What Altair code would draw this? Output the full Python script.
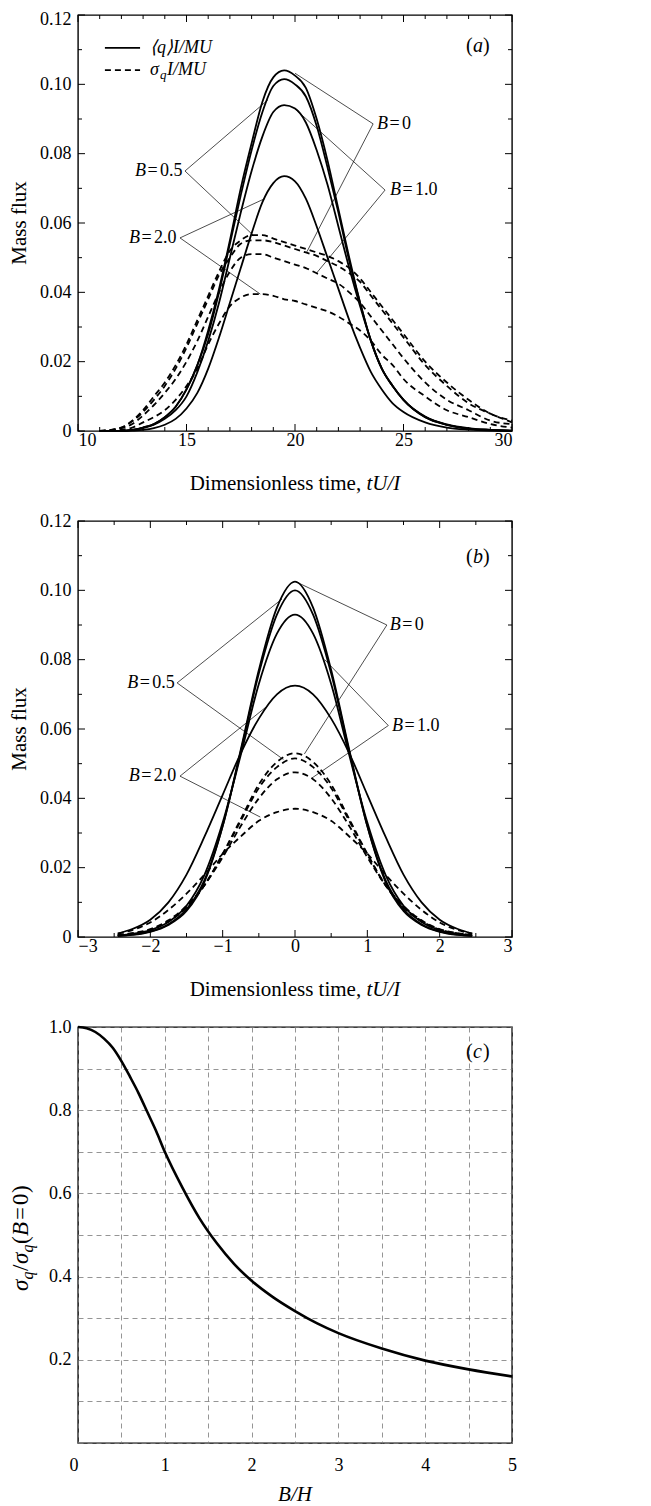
import altair as alt
import pandas as pd

FONT = "Liberation Serif"
W, H = 434, 416

# ---------------- Panel (a) ----------------
ta = [11, 12, 12.5, 13, 13.5, 14, 14.5, 15, 15.5, 16, 16.5, 17, 17.5, 18, 18.5, 19, 19.5,
      20, 20.5, 21, 21.5, 22, 22.5, 23, 23.5, 24, 24.5, 25, 26, 27, 28, 29, 30]
qa_B0 = [0, 0, 0.0003, 0.001, 0.002, 0.004, 0.007, 0.012, 0.019, 0.029, 0.041, 0.055, 0.070, 0.083, 0.095,
         0.102, 0.104, 0.1025, 0.099, 0.090, 0.078, 0.064, 0.050, 0.037, 0.026, 0.018, 0.013, 0.009, 0.004,
         0.0018, 0.0007, 0.0003, 0.0001]
qa_B05 = [0, 0, 0.0003, 0.001, 0.002, 0.004, 0.007, 0.012, 0.019, 0.028, 0.040, 0.054, 0.068, 0.081, 0.092,
          0.0995, 0.1015, 0.100, 0.0965, 0.088, 0.076, 0.063, 0.049, 0.037, 0.026, 0.018, 0.013, 0.009, 0.004,
          0.0018, 0.0007, 0.0003, 0.0001]
qa_B1 = [0, 0, 0.0003, 0.0008, 0.0018, 0.0035, 0.006, 0.010, 0.017, 0.026, 0.037, 0.050, 0.063, 0.075, 0.085,
         0.092, 0.094, 0.093, 0.089, 0.081, 0.071, 0.059, 0.047, 0.036, 0.026, 0.018, 0.013, 0.009, 0.0042,
         0.0019, 0.0008, 0.0003, 0.0001]
qa_B2 = [0, 0, 0.0001, 0.0003, 0.0008, 0.0018, 0.0035, 0.0065, 0.011, 0.018, 0.027, 0.037, 0.047, 0.057, 0.066,
         0.0715, 0.0735, 0.072, 0.067, 0.059, 0.050, 0.041, 0.032, 0.024, 0.017, 0.012, 0.008, 0.0055, 0.0025,
         0.001, 0.0004, 0.0001, 0]
sa_B0 = [0, 0.001, 0.003, 0.006, 0.010, 0.014, 0.019, 0.025, 0.032, 0.039, 0.046, 0.052, 0.055, 0.0565, 0.0565,
         0.0555, 0.0545, 0.0535, 0.0525, 0.0515, 0.0505, 0.049, 0.047, 0.044, 0.040, 0.036, 0.032, 0.028, 0.020,
         0.014, 0.009, 0.005, 0.003]
sa_B05 = [0, 0.001, 0.0028, 0.0055, 0.009, 0.013, 0.018, 0.024, 0.031, 0.038, 0.045, 0.050, 0.054, 0.055, 0.055,
          0.0545, 0.0535, 0.0525, 0.0515, 0.0505, 0.049, 0.0475, 0.0455, 0.043, 0.039, 0.035, 0.031, 0.027, 0.019,
          0.013, 0.008, 0.005, 0.0025]
sa_B1 = [0, 0.0008, 0.002, 0.0045, 0.0075, 0.011, 0.015, 0.020, 0.026, 0.033, 0.040, 0.046, 0.050, 0.051, 0.051,
         0.050, 0.049, 0.048, 0.047, 0.0455, 0.044, 0.0425, 0.040, 0.037, 0.033, 0.029, 0.025, 0.021, 0.014,
         0.009, 0.006, 0.003, 0.002]
sa_B2 = [0, 0.0004, 0.001, 0.0025, 0.004, 0.006, 0.009, 0.013, 0.018, 0.025, 0.031, 0.036, 0.0385, 0.0395, 0.0395,
         0.039, 0.038, 0.0375, 0.0365, 0.0355, 0.0345, 0.033, 0.031, 0.029, 0.026, 0.022, 0.019, 0.015, 0.010,
         0.006, 0.004, 0.002, 0.001]

# ---------------- Panel (b) ----------------
tb = [-2.45, -2.25, -2, -1.75, -1.5, -1.25, -1, -0.75, -0.5, -0.25, 0, 0.25, 0.5, 0.75, 1, 1.25, 1.5, 1.75, 2, 2.25, 2.45]
qb_B0 = [0.0003, 0.0006, 0.0015, 0.0035, 0.0075, 0.016, 0.032, 0.054, 0.077, 0.095, 0.1025, 0.095, 0.077, 0.054,
         0.032, 0.016, 0.0075, 0.0035, 0.0015, 0.0006, 0.0003]
qb_B05 = [0.0003, 0.0007, 0.0016, 0.0037, 0.008, 0.0165, 0.032, 0.0535, 0.076, 0.093, 0.100, 0.093, 0.076, 0.0535,
          0.032, 0.0165, 0.008, 0.0037, 0.0016, 0.0007, 0.0003]
qb_B1 = [0.0004, 0.0009, 0.002, 0.0043, 0.009, 0.018, 0.033, 0.0525, 0.073, 0.0875, 0.093, 0.0875, 0.073, 0.0525,
         0.033, 0.018, 0.009, 0.0043, 0.002, 0.0009, 0.0004]
qb_B2 = [0.001, 0.0023, 0.005, 0.010, 0.018, 0.029, 0.041, 0.053, 0.063, 0.070, 0.0725, 0.070, 0.063, 0.053,
         0.041, 0.029, 0.018, 0.010, 0.005, 0.0023, 0.001]
sb_B0 = [0.0005, 0.001, 0.002, 0.0045, 0.0085, 0.015, 0.024, 0.034, 0.044, 0.0505, 0.053, 0.0505, 0.044, 0.034,
         0.024, 0.015, 0.0085, 0.0045, 0.002, 0.001, 0.0005]
sb_B05 = [0.0005, 0.001, 0.0021, 0.0046, 0.0087, 0.015, 0.0238, 0.0335, 0.043, 0.049, 0.0515, 0.049, 0.043, 0.0335,
          0.0238, 0.015, 0.0087, 0.0046, 0.0021, 0.001, 0.0005]
sb_B1 = [0.0006, 0.0011, 0.0023, 0.0048, 0.009, 0.015, 0.023, 0.032, 0.040, 0.0455, 0.0475, 0.0455, 0.040, 0.032,
         0.023, 0.015, 0.009, 0.0048, 0.0023, 0.0011, 0.0006]
sb_B2 = [0.001, 0.002, 0.0042, 0.0078, 0.0125, 0.018, 0.024, 0.029, 0.0335, 0.036, 0.037, 0.036, 0.0335, 0.029,
         0.024, 0.018, 0.0125, 0.0078, 0.0042, 0.002, 0.001]

# ---------------- Panel (c) ----------------
bh = [0, 0.1, 0.2, 0.3, 0.4, 0.5, 0.6, 0.7, 0.8, 0.9, 1.0, 1.2, 1.4, 1.6, 1.8, 2.0, 2.25, 2.5, 2.75, 3.0,
      3.5, 4.0, 4.5, 5.0]
ratio = [1.0, 0.997, 0.988, 0.972, 0.95, 0.918, 0.88, 0.84, 0.795, 0.75, 0.70, 0.615, 0.54, 0.48, 0.43, 0.39,
         0.35, 0.317, 0.288, 0.264, 0.227, 0.198, 0.177, 0.16]

# ---------------- annotations ----------------
B_names = ["0", "1.0", "0.5", "2.0"]
a_lab_t = [23.78, 24.38, 12.63, 12.35]
a_lab_v = [0.0886, 0.0695, 0.075, 0.0557]
a_vtx_t = [23.6, 24.15, 14.93, 14.7]
a_end1_t = [20.0, 19.9, 18.75, 18.6]
a_end1_v = [0.1032, 0.0935, 0.0955, 0.067]
a_end2_t = [20.55, 21.0, 18.1, 18.4]
a_end2_v = [0.0517, 0.0456, 0.0563, 0.0395]

b_lab_t = [1.31, 1.34, -2.32, -2.30]
b_lab_v = [0.090, 0.061, 0.0733, 0.0464]
b_vtx_t = [1.27, 1.29, -1.63, -1.59]
b_end1_t = [0.02, 0.41, -0.18, -0.39]
b_end1_v = [0.1024, 0.080, 0.0975, 0.0665]
b_end2_t = [0.13, 0.23, -0.16, -0.48]
b_end2_v = [0.0528, 0.0458, 0.0512, 0.0346]

legend_t = [11.24, 12.86]
legend_v = [0.1105, 0.1041]
legend_text_t = 13.32

tag_pos = {"a": (27.88, 0.111), "b": (2.364, 0.1096), "c": (4.47, 0.94)}

ya_ticks_major = [0, 0.02, 0.04, 0.06, 0.08, 0.10, 0.12]
ya_ticks_minor = [0.01, 0.03, 0.05, 0.07, 0.09, 0.11]
xa_major = [10, 15, 20, 25, 30]
xa_minor = [11, 12, 13, 14, 16, 17, 18, 19, 21, 22, 23, 24, 26, 27, 28, 29]
xb_major = [-3, -2, -1, 0, 1, 2, 3]
xb_minor = [-2.5, -1.5, -0.5, 0.5, 1.5, 2.5]
xc_grid = [0, 0.5, 1, 1.5, 2, 2.5, 3, 3.5, 4, 4.5, 5]
yc_grid = [0, 0.1, 0.2, 0.3, 0.4, 0.5, 0.6, 0.7, 0.8, 0.9, 1.0]

DUMMY = pd.DataFrame({"d": [0]})


class Panel:
    def __init__(self, xdom, ydom, xaxis, yaxis):
        self.xdom, self.ydom, self.xaxis, self.yaxis = xdom, ydom, xaxis, yaxis

    def X(self, field):
        return alt.X(f"{field}:Q", scale=alt.Scale(domain=self.xdom, nice=False, zero=False), axis=self.xaxis)

    def Y(self, field):
        return alt.Y(f"{field}:Q", scale=alt.Scale(domain=self.ydom, nice=False, zero=False), axis=self.yaxis)

    def XY(self):
        return dict(x=self.X("t"), y=self.Y("v"))


def long(x, series):
    rows = []
    for name, vals in series.items():
        for xi, vi in zip(x, vals):
            rows.append({"t": xi, "v": vi, "series": name})
    return pd.DataFrame(rows)


def txt(text, x, y, size=18, italic=False, align="left", baseline="middle", dx=0, dy=0, angle=None):
    kw = dict(text=text, font=FONT, fontSize=size, align=align, baseline=baseline, dx=dx, dy=dy, color="black")
    if italic:
        kw["fontStyle"] = "italic"
    if angle is not None:
        kw["angle"] = angle
    return alt.Chart(DUMMY).mark_text(**kw).encode(x=alt.value(x), y=alt.value(y))


def ticks(P, xmaj, xmin, ymaj, ymin, Lmaj=7, Lmin=4):
    layers = []
    for vals, L in [(xmaj, Lmaj), (xmin, Lmin)]:
        d = pd.DataFrame({"t": vals})
        base = alt.Chart(d).mark_rule(color="black", strokeWidth=1)
        layers.append(base.encode(x=P.X("t"), y=alt.value(H), y2=alt.value(H - L)))
        layers.append(base.encode(x=P.X("t"), y=alt.value(0), y2=alt.value(L)))
    for vals, L in [(ymaj, Lmaj), (ymin, Lmin)]:
        d = pd.DataFrame({"v": vals})
        base = alt.Chart(d).mark_rule(color="black", strokeWidth=1)
        layers.append(base.encode(y=P.Y("v"), x=alt.value(0), x2=alt.value(L)))
        layers.append(base.encode(y=P.Y("v"), x=alt.value(W), x2=alt.value(W - L)))
    return layers


def xtitle_time(y):
    return [txt("Dimensionless time,", 111.7, y, size=21),
            txt("tU/I", 288.5, y, size=21, italic=True)]


def b_labels(P, lab_t, lab_v):
    d = pd.DataFrame({"t": lab_t, "v": lab_v, "val": B_names})
    base = alt.Chart(d)
    enc = P.XY()
    return [
        base.mark_text(text="B", font=FONT, fontSize=18, fontStyle="italic", align="left",
                       baseline="middle", color="black").encode(**enc),
        base.mark_text(text="=", font=FONT, fontSize=18, align="left", baseline="middle",
                       dx=12.5, color="black").encode(**enc),
        base.mark_text(font=FONT, fontSize=18, align="left", baseline="middle", dx=25,
                       color="black").encode(text="val:N", **enc),
    ]


def leaders(P, vtx_t, vtx_v, e1t, e1v, e2t, e2v):
    d = pd.DataFrame({"t": vtx_t + vtx_t, "v": vtx_v + vtx_v,
                      "t2": e1t + e2t, "v2": e1v + e2v})
    return alt.Chart(d).mark_rule(color="black", strokeWidth=0.7).encode(
        x=P.X("t"), y=P.Y("v"), x2="t2:Q", y2="v2:Q")


def tag(P, letter):
    tx, ty = tag_pos[letter]
    d = pd.DataFrame({"t": [tx], "v": [ty]})
    enc = P.XY()
    base = alt.Chart(d)
    return [
        base.mark_text(text="(", font=FONT, fontSize=20, align="left", baseline="middle", color="black").encode(**enc),
        base.mark_text(text=letter, font=FONT, fontSize=20, fontStyle="italic", align="left", baseline="middle",
                       dx=7, color="black").encode(**enc),
        base.mark_text(text=")", font=FONT, fontSize=20, align="left", baseline="middle", dx=17,
                       color="black").encode(**enc),
    ]


YLABEL_EXPR = "datum.value == 0 ? '0' : format(datum.value, '.2f')"
YA_AXIS_TOP = alt.Axis(values=ya_ticks_major, labelExpr=YLABEL_EXPR, title=None, labelPadding=7,
                       labelOffset={"condition": {"test": "datum.value > 0.115", "value": 4}, "value": 0})
YB_AXIS = alt.Axis(values=ya_ticks_major, labelExpr=YLABEL_EXPR, title=None, labelPadding=7)


def flux_panel(P, x, qs, ss, xmaj, xmin, lab, lead, letter, extra=None):
    qdf = long(x, qs)
    sdf = long(x, ss)
    solid = alt.Chart(qdf).mark_line(color="black", strokeWidth=1.8, interpolate="monotone").encode(
        detail="series:N", **P.XY())
    dashed = alt.Chart(sdf).mark_line(color="black", strokeWidth=1.8, strokeDash=[6, 4],
                                      interpolate="monotone").encode(detail="series:N", **P.XY())
    layers = [solid, dashed]
    layers += ticks(P, xmaj, xmin, ya_ticks_major, ya_ticks_minor)
    layers.append(leaders(P, *lead))
    layers += b_labels(P, *lab)
    layers += tag(P, letter)
    layers += xtitle_time(H + 53)
    layers.append(txt("Mass flux", -58, H / 2, size=21, angle=270, align="center"))
    if extra:
        layers += extra(P)
    return alt.layer(*layers).properties(width=W, height=H)


def legend_a(P):
    d1 = pd.DataFrame({"t": legend_t, "v": [legend_v[0]] * 2})
    d2 = pd.DataFrame({"t": legend_t, "v": [legend_v[1]] * 2})
    l1 = alt.Chart(d1).mark_line(color="black", strokeWidth=1.8).encode(**P.XY())
    l2 = alt.Chart(d2).mark_line(color="black", strokeWidth=1.8, strokeDash=[6, 4]).encode(**P.XY())
    dt = pd.DataFrame({"t": [legend_text_t, legend_text_t], "v": legend_v})
    e1 = P.XY()
    t1 = alt.Chart(dt.iloc[[0]]).mark_text(text="⟨q⟩I/MU", font=FONT, fontSize=18, fontStyle="italic",
                                             align="left", baseline="middle", color="black").encode(**e1)
    base2 = alt.Chart(dt.iloc[[1]])
    t2 = base2.mark_text(text="σ", font=FONT, fontSize=18, fontStyle="italic", align="left",
                         baseline="middle", color="black").encode(**e1)
    t3 = base2.mark_text(text="q", font=FONT, fontSize=13, fontStyle="italic", align="left",
                         baseline="middle", dx=10, dy=5, color="black").encode(**e1)
    t4 = base2.mark_text(text="I/MU", font=FONT, fontSize=18, fontStyle="italic", align="left",
                         baseline="middle", dx=17, color="black").encode(**e1)
    return [l1, l2, t1, t2, t3, t4]


PA = Panel([10, 30], [0, 0.12], alt.Axis(values=xa_major, format="d", title=None, labelPadding=0), YA_AXIS_TOP)
pa = flux_panel(
    PA, ta, {"B0": qa_B0, "B05": qa_B05, "B1": qa_B1, "B2": qa_B2},
    {"B0": sa_B0, "B05": sa_B05, "B1": sa_B1, "B2": sa_B2},
    xa_major, xa_minor, (a_lab_t, a_lab_v),
    (a_vtx_t, a_lab_v, a_end1_t, a_end1_v, a_end2_t, a_end2_v), "a", extra=legend_a)

PB = Panel([-3, 3], [0, 0.12],
           alt.Axis(values=xb_major, title=None, labelPadding=0,
                    labelExpr="datum.value < 0 ? '\u2212' + format(-datum.value, 'd') : format(datum.value, 'd')"),
           YB_AXIS)
pb = flux_panel(
    PB, tb, {"B0": qb_B0, "B05": qb_B05, "B1": qb_B1, "B2": qb_B2},
    {"B0": sb_B0, "B05": sb_B05, "B1": sb_B1, "B2": sb_B2},
    xb_major, xb_minor, (b_lab_t, b_lab_v),
    (b_vtx_t, b_lab_v, b_end1_t, b_end1_v, b_end2_t, b_end2_v), "b")

# Panel (c)
xc_axis = alt.Axis(values=xc_grid, grid=True, gridDash=[5, 4], gridColor="#7a7a7a", gridWidth=0.8,
                   labelExpr="datum.value % 1 == 0 ? format(datum.value, 'd') : ''",
                   labelAlign={"condition": {"test": "datum.value == 0", "value": "right"}, "value": "center"},
                   labelPadding=13, title=None)
yc_axis = alt.Axis(values=yc_grid, grid=True, gridDash=[5, 4], gridColor="#7a7a7a", gridWidth=0.8,
                   labelExpr="(round(datum.value * 10) % 2 == 0 && datum.value > 0.05) ? format(datum.value, '.1f') : ''",
                   labelPadding=7, title=None)
PC = Panel([0, 5], [0, 1], xc_axis, yc_axis)
cdf = pd.DataFrame({"t": bh, "v": ratio})
ccurve = alt.Chart(cdf).mark_line(color="black", strokeWidth=2.6, interpolate="monotone").encode(**PC.XY())

# rotated y title pieces (reading bottom to top)
cy0 = H / 2 + 56
cs = 23
ctitle = [
    txt("σ", -57, cy0, size=cs, italic=True, angle=270, dx=0),
    txt("q", -57, cy0, size=16, italic=True, angle=270, dx=11.5, dy=7),
    txt("/", -57, cy0, size=cs, angle=270, dx=20),
    txt("σ", -57, cy0, size=cs, italic=True, angle=270, dx=27),
    txt("q", -57, cy0, size=16, italic=True, angle=270, dx=38.5, dy=7),
    txt("(", -57, cy0, size=cs, angle=270, dx=47),
    txt("B", -57, cy0, size=cs, italic=True, angle=270, dx=55),
    txt("=", -57, cy0, size=cs, angle=270, dx=71),
    txt("0", -57, cy0, size=cs, angle=270, dx=86),
    txt(")", -57, cy0, size=cs, angle=270, dx=98),
]
cxtitle = txt("B/H", W / 2, H + 52, size=21, italic=True, align="center")
pc = alt.layer(ccurve, *tag(PC, "c"), *ctitle, cxtitle).properties(width=W, height=H)

chart = alt.vconcat(pa, pb, pc, spacing=90, bounds="flush").properties(
    padding={"left": 0, "top": 1, "right": 5, "bottom": 2}
).configure_view(stroke="black", strokeWidth=1.4).configure_axis(
    labelFont=FONT, labelFontSize=18, labelColor="black", domain=False, ticks=False, grid=False,
    titleFont=FONT
)

chart.save("out.html", embed_options={"renderer": "svg", "actions": False})
